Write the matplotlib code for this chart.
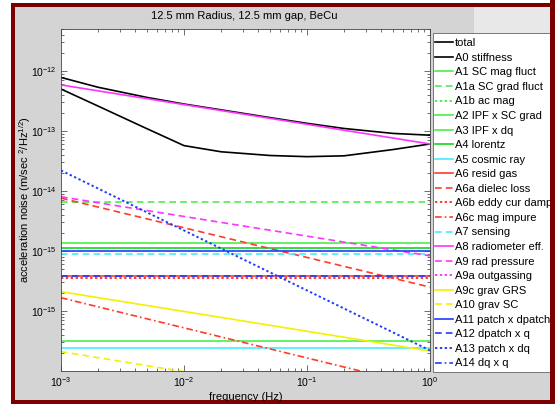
import numpy as np
import matplotlib
matplotlib.use("Agg")
import matplotlib.pyplot as plt
from matplotlib.patches import Rectangle
from matplotlib.ticker import FixedLocator, FixedFormatter, LogLocator, NullFormatter

plt.rcParams['font.family'] = ['Liberation Sans', 'DejaVu Sans']
plt.rcParams['mathtext.fontset'] = 'custom'
plt.rcParams['mathtext.rm'] = 'Liberation Sans'
plt.rcParams['mathtext.it'] = 'Liberation Sans'
plt.rcParams['mathtext.default'] = 'regular'

title = "12.5 mm Radius, 12.5 mm gap, BeCu"

# ---- data ----
freq = [1e-3, 2e-3, 5e-3, 1e-2, 2e-2, 5e-2, 1e-1, 2e-1, 5e-1, 1.0]
total = [7.8e-13, 5.35e-13, 3.62e-13, 2.81e-13, 2.25e-13, 1.67e-13, 1.34e-13, 1.10e-13, 9.1e-14, 8.5e-14]
a0_stiffness = [5.0e-13, 2.6e-13, 1.09e-13, 5.7e-14, 4.5e-14, 3.9e-14, 3.73e-14, 3.85e-14, 4.9e-14, 6.07e-14]

f_ends = [1e-3, 1.0]
a1_sc_mag = [1.36e-15, 1.36e-15]
a1a_sc_grad = [6.45e-15, 6.45e-15]
a1b_ac_mag = [np.nan, np.nan]
a2_ipf_sc_grad = [3.2e-17, 3.2e-17]
a3_ipf_dq = [np.nan, np.nan]
a4_lorentz = [1.1e-15, 1.1e-15]
a5_cosmic = [2.45e-17, 2.45e-17]
a6_resid_gas = [3.9e-16, 3.9e-16]
a6a_dielec = [7.6e-15, 2.5e-16]
a6b_eddy = [3.6e-16, 3.6e-16]
a6c_mag_impure = [1.66e-16, 5.2e-18]
a7_sensing = [9.0e-16, 9.0e-16]
a8_radiometer = [5.85e-13, 6.07e-14]
a9_rad_pressure = [8.0e-15, 8.3e-16]
a9a_outgassing = [np.nan, np.nan]
a9c_grav_grs = [2.1e-16, 2.15e-17]
a10_grav_sc = [2.1e-17, 2.1e-18]
a11_patch_dpatch = [1.0e-15, 1.0e-15]
a12_dpatch_q = [3.8e-16, 3.8e-16]
a13_patch_dq = [2.2e-14, 2.2e-17]
a14_dq_q = [np.nan, np.nan]

xtick_vals = [1e-3, 1e-2, 1e-1, 1e0]
xtick_labels = ['$10^{-3}$', '$10^{-2}$', '$10^{-1}$', '$10^{0}$']
ytick_vals = [1e-16, 1e-15, 1e-14, 1e-13, 1e-12]
ytick_labels = ['$10^{-15}$', '$10^{-15}$', '$10^{-14}$', '$10^{-13}$', '$10^{-12}$']

# ---- styles ----
GREEN = '#4cf04c'
GREEN2 = '#16d616'
CYAN = '#45ecff'
RED = '#ff3b2b'
MAG = '#ff33ff'
YEL = '#f5f000'
BLUE = '#1f3cff'

series = [
    ('total', freq, total, 'black', '-'),
    ('A0 stiffness', freq, a0_stiffness, 'black', '-'),
    ('A1 SC mag fluct', f_ends, a1_sc_mag, GREEN, '-'),
    ('A1a SC grad fluct', f_ends, a1a_sc_grad, GREEN, '--'),
    ('A1b ac mag', f_ends, a1b_ac_mag, GREEN, ':'),
    ('A2 IPF x SC grad', f_ends, a2_ipf_sc_grad, GREEN, '-'),
    ('A3 IPF x dq', f_ends, a3_ipf_dq, GREEN, '-'),
    ('A4 lorentz', f_ends, a4_lorentz, GREEN2, '-'),
    ('A5 cosmic ray', f_ends, a5_cosmic, CYAN, '-'),
    ('A6 resid gas', f_ends, a6_resid_gas, RED, '-'),
    ('A6a dielec loss', f_ends, a6a_dielec, RED, '--'),
    ('A6b eddy cur damp', f_ends, a6b_eddy, RED, ':'),
    ('A6c mag impure', f_ends, a6c_mag_impure, RED, '-.'),
    ('A7 sensing', f_ends, a7_sensing, CYAN, '--'),
    ('A8 radiometer eff.', f_ends, a8_radiometer, MAG, '-'),
    ('A9 rad pressure', f_ends, a9_rad_pressure, MAG, '--'),
    ('A9a outgassing', f_ends, a9a_outgassing, MAG, ':'),
    ('A9c grav GRS', f_ends, a9c_grav_grs, YEL, '-'),
    ('A10 grav SC', f_ends, a10_grav_sc, YEL, '--'),
    ('A11 patch x dpatch', f_ends, a11_patch_dpatch, BLUE, '-'),
    ('A12 dpatch x q', f_ends, a12_dpatch_q, BLUE, '--'),
    ('A13 patch x dq', f_ends, a13_patch_dq, BLUE, ':'),
    ('A14 dq x q', f_ends, a14_dq_q, BLUE, '-.'),
]

W, H = 555, 404
fig = plt.figure(figsize=(W / 100, H / 100), dpi=100)
fig.patch.set_facecolor('white')

def px_rect(x0, y0, x1, y1, color, z, edge='none', lw=0):
    r = Rectangle((x0 / W, 1 - y1 / H), (x1 - x0) / W, (y1 - y0) / H,
                  transform=fig.transFigure, facecolor=color, edgecolor=edge,
                  linewidth=lw, zorder=z)
    fig.add_artist(r)
    return r

px_rect(11, 3, 555, 404, '#7a0000', -10)
px_rect(15, 7, 550, 400, '#d4d4d4', -9)
px_rect(474, 7, 550, 33, '#e8e8e8', -8)
px_rect(432.5, 33, 580, 372, 'white', 4, edge='#666666', lw=0.6)
px_rect(550, 0, 555, 404, '#7a0000', 20)

ax = fig.add_axes([61 / W, 1 - 371 / H, 369 / W, 342 / H])
ax.set_facecolor('white')

handles = []
for name, x, y, c, ls in series:
    if ls == ':':
        ln, = ax.loglog(x, y, color=c, linestyle=(0, (1.2, 1.3)), linewidth=1.4, label=name)
    elif ls == '--':
        ln, = ax.loglog(x, y, color=c, linestyle=(0, (4, 2.5)), linewidth=1.2, label=name)
    elif ls == '-.':
        ln, = ax.loglog(x, y, color=c, linestyle=(0, (4, 1.8, 1, 1.8)), linewidth=1.2, label=name)
    else:
        ln, = ax.loglog(x, y, color=c, linestyle='-', linewidth=1.2, label=name)
    handles.append(ln)

ax.set_xlim(1e-3, 1.0)
ax.set_ylim(1e-17, 5e-12)

ax.xaxis.set_major_locator(FixedLocator(xtick_vals))
ax.xaxis.set_major_formatter(FixedFormatter(xtick_labels))
ax.xaxis.set_minor_locator(LogLocator(base=10, subs=np.arange(2, 10), numticks=20))
ax.xaxis.set_minor_formatter(NullFormatter())
ax.yaxis.set_major_locator(FixedLocator(ytick_vals))
ax.yaxis.set_major_formatter(FixedFormatter(ytick_labels))
ax.yaxis.set_minor_locator(LogLocator(base=10, subs=np.arange(2, 10), numticks=20))
ax.yaxis.set_minor_formatter(NullFormatter())

ax.tick_params(which='both', direction='in', top=True, right=True, colors='#333333',
               labelcolor='black', labelsize=7.5, width=0.5)
ax.tick_params(which='major', length=4, pad=3)
ax.tick_params(which='minor', length=2)
for s in ax.spines.values():
    s.set_color('#444444')
    s.set_linewidth(0.6)

ax.set_xlabel('frequency (Hz)', fontsize=8, labelpad=2)
ax.set_ylabel('acceleration noise (m/sec $^2$/Hz$^{1/2}$)', fontsize=8)
ax.yaxis.set_label_coords((33 - 61) / 369, 0.5)
fig.text(244 / W, 1 - 16 / H, title, ha='center', va='center', fontsize=8)

leg = fig.legend(handles=handles, loc='upper left', bbox_to_anchor=(432.5 / W, 1 - 35.5 / H),
                 fontsize=8, frameon=False, borderpad=0.25,
                 labelspacing=0.41, handlelength=1.6, handletextpad=0.2,
                 borderaxespad=0)
leg.set_zorder(5)

fig.savefig('out.png', dpi=100)
